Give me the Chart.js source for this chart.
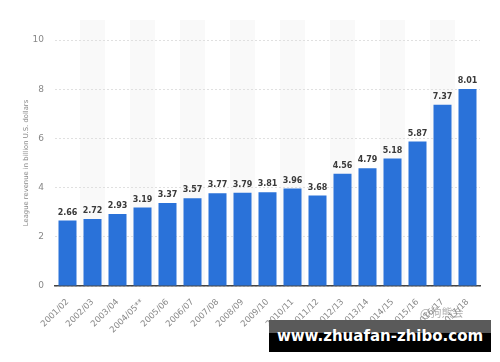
<!DOCTYPE html>
<html>
<head>
<meta charset="utf-8">
<script src="https://cdn.jsdelivr.net/npm/chart.js@4"></script>
<style>
  html, body { margin: 0; padding: 0; background: #fff; }
  #wrap { position: relative; width: 500px; height: 362px; overflow: hidden; }
  #c { position: absolute; left: 0; top: 0; }
  #wm { position: absolute; left: 269px; top: 320px; width: 222px; height: 32px;
        background: linear-gradient(#5a5a5a 0%, #5a5a5a 40%, #000 40%, #000 100%);
        color: #fff; font-family: "DejaVu Sans", sans-serif; font-weight: bold;
        font-size: 15px; line-height: 32px; text-align: center; }
  #wm2 { position: absolute; left: 420px; top: 304px; font-family: "Noto Sans CJK SC", sans-serif;
         font-size: 11px; color: rgba(140,140,140,0.7); }
</style>
</head>
<body>
<div id="wrap">
  <canvas id="c" width="500" height="362"></canvas>
  <div id="wm2">@狗熊会</div>
  <div id="wm">www.zhuafan-zhibo.com</div>
</div>
<script>
const categories = ["2001/02","2002/03","2003/04","2004/05**","2005/06","2006/07","2007/08","2008/09","2009/10","2010/11","2011/12","2012/13","2013/14","2014/15","2015/16","2016/17","2017/18"];
const revenue = [2.66, 2.72, 2.93, 3.19, 3.37, 3.57, 3.77, 3.79, 3.81, 3.96, 3.68, 4.56, 4.79, 5.18, 5.87, 7.37, 8.01];
const yTicks = [0, 2, 4, 6, 8, 10];
const yTitle = "League revenue in billion U.S. dollars";

const stripes = {
  id: 'stripes',
  beforeDraw(chart) {
    const ctx = chart.ctx, x = chart.scales.x, area = chart.chartArea;
    const w = (x.getPixelForValue(1) - x.getPixelForValue(0));
    ctx.save();
    ctx.fillStyle = '#f9f9f9';
    for (let i = 1; i < categories.length; i += 2) {
      const cx = x.getPixelForValue(i);
      ctx.fillRect(cx - w / 2, 20, w, area.bottom - 20);
    }
    ctx.restore();
  }
};

const valueLabels = {
  id: 'valueLabels',
  afterDatasetsDraw(chart) {
    const ctx = chart.ctx;
    const meta = chart.getDatasetMeta(0);
    ctx.save();
    ctx.font = 'bold 8px "DejaVu Sans", sans-serif';
    ctx.fillStyle = '#3a3a3a';
    ctx.textAlign = 'center';
    ctx.textBaseline = 'bottom';
    meta.data.forEach((bar, i) => {
      ctx.fillText(revenue[i].toFixed(2), bar.x, bar.y - 4);
    });
    ctx.restore();
  }
};

new Chart(document.getElementById('c'), {
  type: 'bar',
  data: {
    labels: categories,
    datasets: [{
      data: revenue,
      backgroundColor: '#2a72d9',
      barPercentage: 0.8,
      categoryPercentage: 0.9
    }]
  },
  options: {
    responsive: false,
    animation: false,
    layout: { padding: { top: 40, right: 20, left: 0, bottom: 0 } },
    plugins: { legend: { display: false }, tooltip: { enabled: false } },
    scales: {
      x: {
        grid: { display: false },
        border: { display: true, color: '#444', width: 1.5 },
        ticks: {
          minRotation: 45, maxRotation: 45, autoSkip: false,
          color: '#888', padding: 3,
          font: { family: '"DejaVu Sans", sans-serif', size: 8.5 }
        },
        afterFit(s) { s.height = 76; }
      },
      y: {
        min: 0, max: 10,
        afterBuildTicks(s) { s.ticks = yTicks.map(v => ({ value: v })); },
        grid: { color: '#e0e0e0', drawTicks: false, lineWidth: 1 },
        border: { display: false, dash: [2, 2] },
        ticks: {
          color: '#888', padding: 11,
          font: { family: '"DejaVu Sans", sans-serif', size: 9 }
        },
        title: {
          display: true, text: yTitle, color: '#888',
          font: { family: '"DejaVu Sans", sans-serif', size: 6.8 },
          padding: { top: 22, bottom: 0 }
        },
        afterFit(s) { s.width = 55; }
      }
    }
  },
  plugins: [stripes, valueLabels]
});
</script>
</body>
</html>
